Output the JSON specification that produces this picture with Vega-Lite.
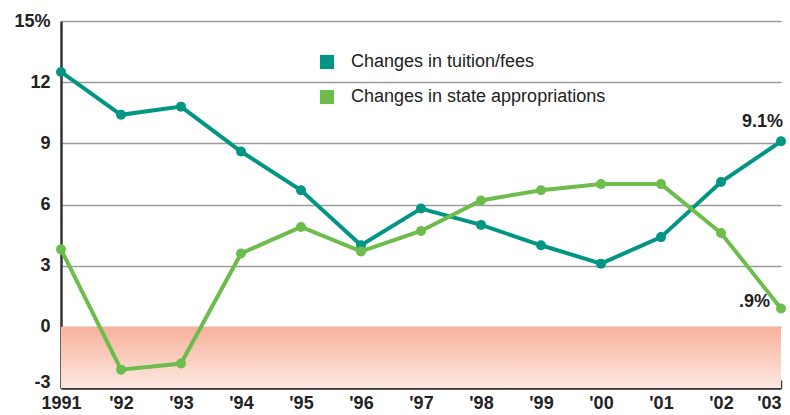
{
  "$schema": "https://vega.github.io/schema/vega-lite/v6.json",
  "width": 720,
  "height": 367,
  "autosize": "none",
  "padding": {"left": 61, "top": 21, "right": 9, "bottom": 27},
  "background": "white",
  "config": {"view": {"stroke": null}, "font": "Liberation Sans"},
  "datasets": {
    "series": [
      {"year": 1991, "value": 12.5, "series": "Changes in tuition/fees"},
      {"year": 1992, "value": 10.4, "series": "Changes in tuition/fees"},
      {"year": 1993, "value": 10.8, "series": "Changes in tuition/fees"},
      {"year": 1994, "value": 8.6, "series": "Changes in tuition/fees"},
      {"year": 1995, "value": 6.7, "series": "Changes in tuition/fees"},
      {"year": 1996, "value": 4.0, "series": "Changes in tuition/fees"},
      {"year": 1997, "value": 5.8, "series": "Changes in tuition/fees"},
      {"year": 1998, "value": 5.0, "series": "Changes in tuition/fees"},
      {"year": 1999, "value": 4.0, "series": "Changes in tuition/fees"},
      {"year": 2000, "value": 3.1, "series": "Changes in tuition/fees"},
      {"year": 2001, "value": 4.4, "series": "Changes in tuition/fees"},
      {"year": 2002, "value": 7.1, "series": "Changes in tuition/fees"},
      {"year": 2003, "value": 9.1, "series": "Changes in tuition/fees"},
      {"year": 1991, "value": 3.8, "series": "Changes in state appropriations"},
      {"year": 1992, "value": -2.1, "series": "Changes in state appropriations"},
      {"year": 1993, "value": -1.8, "series": "Changes in state appropriations"},
      {"year": 1994, "value": 3.6, "series": "Changes in state appropriations"},
      {"year": 1995, "value": 4.9, "series": "Changes in state appropriations"},
      {"year": 1996, "value": 3.7, "series": "Changes in state appropriations"},
      {"year": 1997, "value": 4.7, "series": "Changes in state appropriations"},
      {"year": 1998, "value": 6.2, "series": "Changes in state appropriations"},
      {"year": 1999, "value": 6.7, "series": "Changes in state appropriations"},
      {"year": 2000, "value": 7.0, "series": "Changes in state appropriations"},
      {"year": 2001, "value": 7.0, "series": "Changes in state appropriations"},
      {"year": 2002, "value": 4.6, "series": "Changes in state appropriations"},
      {"year": 2003, "value": 0.9, "series": "Changes in state appropriations"}
    ],
    "band": [{"x1": 1991, "x2": 2003, "y1": 0, "y2": -3}],
    "labels": [
      {"year": 2003, "value": 9.1, "label": "9.1%", "pos": "top"},
      {"year": 2003, "value": 0.9, "label": ".9%", "pos": "left"}
    ]
  },
  "layer": [
    {
      "data": {"name": "band"},
      "mark": {
        "type": "rect",
        "fill": {"gradient": "linear", "x1": 0, "y1": 0, "x2": 0, "y2": 1,
          "stops": [{"offset": 0, "color": "#f7b29b"}, {"offset": 1, "color": "#fde8e1"}]}
      },
      "encoding": {
        "x": {"field": "x1", "type": "quantitative", "scale": {"domain": [1991, 2003], "nice": false, "zero": false},
          "axis": {
            "values": [1991, 1992, 1993, 1994, 1995, 1996, 1997, 1998, 1999, 2000, 2001, 2002, 2003],
            "labelExpr": "datum.value == 1991 ? '1991' : \"'\" + substring(toString(datum.value), 2, 4)",
            "title": null, "grid": false,
            "domainColor": "#333", "domainWidth": 2.5,
            "tickColor": "#333", "tickWidth": 1.5, "tickSize": -8,
            "labelFontSize": 18, "labelColor": "#222", "labelFontWeight": "bold", "labelPadding": 14,
            "labelAlign": {"condition": {"test": "datum.value == 2003", "value": "right"}, "value": "center"},
            "labelFlush": false, "labelOverlap": false
          }},
        "x2": {"field": "x2"},
        "y": {"field": "y1", "type": "quantitative", "scale": {"domain": [-3, 15], "nice": false},
          "axis": {
            "values": [-3, 0, 3, 6, 9, 12, 15],
            "labelExpr": "datum.value == 15 ? '15%' : (datum.value == -3 ? '-3' : datum.label)",
            "title": null, "grid": true, "gridColor": "#9a9a9a", "gridWidth": 1.5,
            "domainColor": "#333", "domainWidth": 2.5, "ticks": false,
            "labelFontSize": 18, "labelColor": "#222", "labelFontWeight": "bold", "labelPadding": 11,
            "labelOffset": {"condition": {"test": "datum.value == -3", "value": -6}, "value": 0},
            "labelFlush": false
          }},
        "y2": {"field": "y2"}
      }
    },
    {
      "mark": {"type": "rule", "color": "#9a9a9a", "strokeWidth": 1.5},
      "encoding": {"y": {"datum": 0, "type": "quantitative"}}
    },
    {
      "data": {"name": "series"},
      "mark": {"type": "line", "strokeWidth": 4, "point": {"size": 100, "filled": true, "opacity": 1}},
      "encoding": {
        "x": {"field": "year", "type": "quantitative"},
        "y": {"field": "value", "type": "quantitative"},
        "color": {"field": "series", "type": "nominal",
          "scale": {"domain": ["Changes in tuition/fees", "Changes in state appropriations"], "range": ["#009683", "#6cbd4c"]},
          "legend": {
            "orient": "none", "legendX": 257, "legendY": 32, "title": null,
            "symbolType": "square", "symbolSize": 200, "symbolStrokeWidth": 0, "symbolOpacity": 1,
            "labelFontSize": 18, "labelColor": "#222", "labelOffset": 15, "rowPadding": 17, "labelLimit": 400
          }}
      }
    },
    {
      "data": {"name": "labels"},
      "transform": [{"filter": "datum.pos == 'top'"}],
      "mark": {"type": "text", "align": "right", "baseline": "bottom", "dx": 2, "dy": -10, "fontSize": 18, "fontWeight": "bold", "color": "#222"},
      "encoding": {
        "x": {"field": "year", "type": "quantitative"},
        "y": {"field": "value", "type": "quantitative"},
        "text": {"field": "label"}
      }
    },
    {
      "data": {"name": "labels"},
      "transform": [{"filter": "datum.pos == 'left'"}],
      "mark": {"type": "text", "align": "right", "baseline": "bottom", "dx": -11, "dy": 3, "fontSize": 18, "fontWeight": "bold", "color": "#222"},
      "encoding": {
        "x": {"field": "year", "type": "quantitative"},
        "y": {"field": "value", "type": "quantitative"},
        "text": {"field": "label"}
      }
    }
  ]
}
